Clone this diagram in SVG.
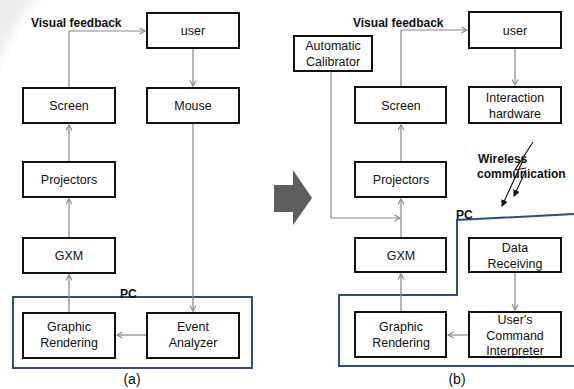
<svg xmlns="http://www.w3.org/2000/svg" width="574" height="389" viewBox="0 0 574 389">
<style>
.box{fill:#fff;stroke:#111;stroke-width:2}
.t{font-family:"Liberation Sans",Arial,sans-serif;font-size:12.5px;fill:#111;text-anchor:middle}
.lbl{font-family:"Liberation Sans",Arial,sans-serif;font-size:12px;font-weight:bold;fill:#111}
.c{fill:none;stroke:#888;stroke-width:1.2}
.ca{fill:none;stroke:#888;stroke-width:1.2;marker-end:url(#ah)}
.pc{fill:none;stroke:#2f4d80;stroke-width:2}
.cap{font-family:"Liberation Sans",Arial,sans-serif;font-size:14px;fill:#111;text-anchor:middle}
</style>
<defs>
<marker id="ah" markerUnits="userSpaceOnUse" markerWidth="8" markerHeight="8" refX="6" refY="3.5" orient="auto">
<path d="M0.5,0.5 L6,3.5 L0.5,6.5" fill="none" stroke="#888" stroke-width="1.1"/>
</marker>
<marker id="bk" markerUnits="userSpaceOnUse" markerWidth="8" markerHeight="8" refX="6" refY="3.5" orient="auto">
<path d="M0,0 L7,3.5 L0,7 Z" fill="#111"/>
</marker>
<filter id="blur"><feGaussianBlur stdDeviation="6"/></filter>
</defs>
<rect width="574" height="389" fill="#fff"/>
<path d="M-10,-10 L45,-10 Q10,20 -10,85 Z" fill="#ececec" filter="url(#blur)"/>

<!-- big arrow -->
<path id="bigarrow" d="M274,185 L293,185 L293,170 L312,198 L293,225 L293,212 L274,212 Z" fill="#5e5e5e"/>

<!-- PC containers -->
<rect class="pc" x="13" y="297" width="239" height="71"/>
<text class="lbl" x="120" y="298">PC</text>
<path class="pc" d="M574,214 L457,220 L457,295 L339,295 L339,366 L576,366"/>
<text class="lbl" x="456" y="219">PC</text>

<!-- connectors -->
<g id="connectors">
<path class="ca" d="M69,87 L69,31 L145,31"/>
<path class="ca" d="M193,49 L193,86"/>
<path class="ca" d="M69,161 L69,125"/>
<path class="ca" d="M69,237 L69,199"/>
<path class="ca" d="M69,312 L69,275"/>
<path class="ca" d="M193,124 L193,311"/>
<path class="ca" d="M146,335 L117,335"/>

<path class="ca" d="M401,86 L401,30 L467,30"/>
<path class="ca" d="M515,49 L515,85"/>
<path class="ca" d="M401,161 L401,125"/>
<path class="ca" d="M401,237 L401,199"/>
<path class="ca" d="M331,72 L331,218 L400,218"/>
<path class="ca" d="M401,311 L401,274"/>
<path class="ca" d="M515,273 L515,310"/>
<path class="ca" d="M468,335 L448,335"/>

<!-- wireless lightning -->
<path d="M533,142 L515,170 L526,168" fill="none" stroke="#111" stroke-width="1.1"/>
<path d="M524,158 L502,206" fill="none" stroke="#111" stroke-width="1.1" marker-end="url(#bk)"/>
<path d="M526,170 L514,196" fill="none" stroke="#111" stroke-width="1.1" marker-end="url(#bk)"/>
</g>

<text class="lbl" x="31" y="27">Visual feedback</text>
<text class="lbl" x="353" y="27">Visual feedback</text>
<text class="lbl" x="478" y="163">Wireless</text>
<text class="lbl" x="477" y="178">communication</text>

<!-- panel a -->
<g id="a_user"><rect class="box" x="147" y="13" width="92" height="35"/><text class="t" x="193" y="35">user</text></g>
<g id="a_screen"><rect class="box" x="23" y="88" width="92" height="35"/><text class="t" x="69" y="110">Screen</text></g>
<g id="a_mouse"><rect class="box" x="147" y="88" width="92" height="35"/><text class="t" x="193" y="110">Mouse</text></g>
<g id="a_projectors"><rect class="box" x="23" y="162" width="92" height="35"/><text class="t" x="69" y="184">Projectors</text></g>
<g id="a_gxm"><rect class="box" x="23" y="238" width="92" height="35"/><text class="t" x="69" y="260">GXM</text></g>
<g id="a_graphic"><rect class="box" x="23" y="313" width="92" height="45"/><text class="t" x="69" y="331">Graphic</text><text class="t" x="69" y="347">Rendering</text></g>
<g id="a_event"><rect class="box" x="147" y="313" width="92" height="45"/><text class="t" x="193" y="331">Event</text><text class="t" x="193" y="347">Analyzer</text></g>
<text class="cap" x="132" y="384">(a)</text>

<!-- panel b -->
<g id="b_user"><rect class="box" x="469" y="12" width="92" height="36"/><text class="t" x="515" y="35">user</text></g>
<g id="b_calib"><rect class="box" x="294" y="36" width="78" height="35"/><text class="t" x="333" y="50">Automatic</text><text class="t" x="333" y="66">Calibrator</text></g>
<g id="b_screen"><rect class="box" x="355" y="87" width="91" height="36"/><text class="t" x="401" y="110">Screen</text></g>
<g id="b_hw"><rect class="box" x="469" y="87" width="92" height="36"/><text class="t" x="515" y="102">Interaction</text><text class="t" x="515" y="118">hardware</text></g>
<g id="b_projectors"><rect class="box" x="355" y="162" width="91" height="35"/><text class="t" x="401" y="184">Projectors</text></g>
<g id="b_gxm"><rect class="box" x="355" y="238" width="91" height="34"/><text class="t" x="401" y="260">GXM</text></g>
<g id="b_data"><rect class="box" x="469" y="238" width="92" height="34"/><text class="t" x="515" y="252">Data</text><text class="t" x="515" y="268">Receiving</text></g>
<g id="b_graphic"><rect class="box" x="355" y="312" width="91" height="45"/><text class="t" x="401" y="331">Graphic</text><text class="t" x="401" y="347">Rendering</text></g>
<g id="b_cmd"><rect class="box" x="469" y="312" width="92" height="45"/><text class="t" x="515" y="324">User's</text><text class="t" x="515" y="340">Command</text><text class="t" x="515" y="355">Interpreter</text></g>
<text class="cap" x="457" y="384">(b)</text>
</svg>
